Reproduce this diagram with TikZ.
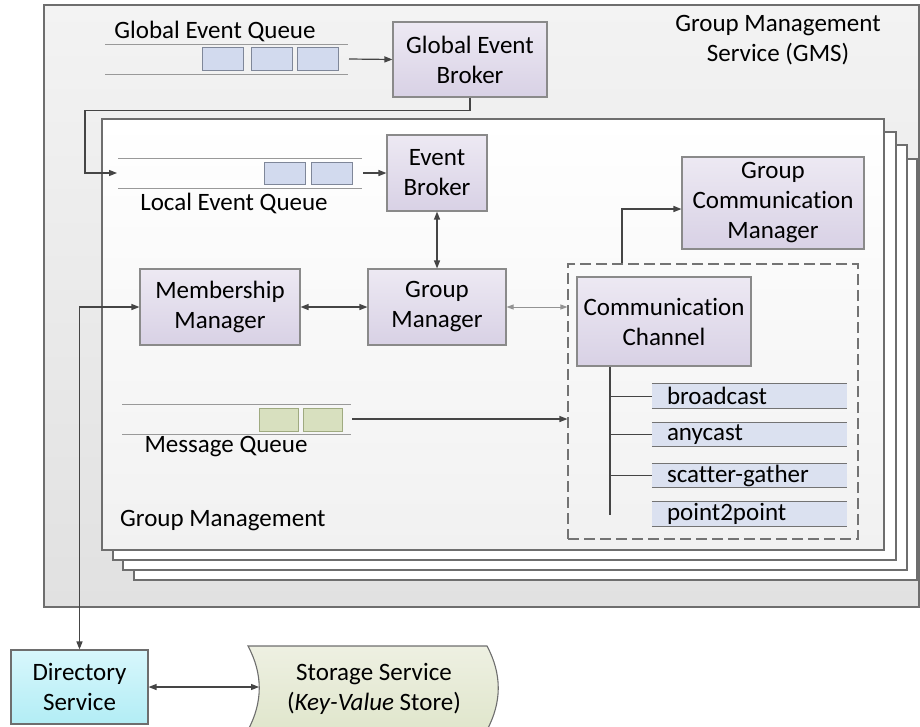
\documentclass[tikz,border=0pt]{standalone}
\usepackage{fontspec}
\setmainfont{Carlito}[Ligatures={NoCommon}]
\usetikzlibrary{arrows.meta,calc}
\definecolor{purpleTop}{HTML}{EDE9F3}
\definecolor{purpleBot}{HTML}{D8D1E5}
\definecolor{boxborder}{HTML}{8A8A8A}
\definecolor{arrowgray}{HTML}{454545}
\definecolor{qblue}{HTML}{D2DAEE}
\definecolor{qbluebd}{HTML}{7F8799}
\definecolor{qgreen}{HTML}{D8E0BF}
\definecolor{qgreenbd}{HTML}{9FAA80}
\definecolor{barblue}{HTML}{DBE1F0}
\definecolor{gmsTop}{HTML}{F3F3F3}
\definecolor{gmsBot}{HTML}{E1E1E1}
\definecolor{pageBot}{HTML}{F1F1F1}
\definecolor{dirTop}{HTML}{D8F7FC}
\definecolor{dirBot}{HTML}{B2EDF5}
\definecolor{storTop}{HTML}{EEF0E2}
\definecolor{storBot}{HTML}{E0E6CC}
\definecolor{linegray}{HTML}{6E6E6E}
\tikzset{
  bigfont/.style={font=\fontsize{25}{30}\selectfont},
  pbox/.style={draw=boxborder, line width=1.1pt, top color=purpleTop, bottom color=purpleBot, align=center, inner sep=0pt, bigfont},
  arr/.style={draw=arrowgray, line width=1.2pt, -{Triangle[length=8pt,width=6pt]}},
  dbl/.style={draw=arrowgray, line width=1.2pt, {Triangle[length=8pt,width=6pt]}-{Triangle[length=8pt,width=6pt]}},
  thindbl/.style={draw=gray!85, line width=0.9pt, {Triangle[length=7pt,width=5pt]}-{Triangle[length=7pt,width=5pt]}},
  qline/.style={draw=gray!80, line width=1pt},
  qb/.style={draw=qbluebd, fill=qblue, line width=0.8pt},
  qg/.style={draw=qgreenbd, fill=qgreen, line width=0.8pt},
  pagestyle/.style={draw=linegray, line width=1.2pt},
  barnode/.style={fill=barblue, text width=165pt, align=left, inner xsep=15pt, inner ysep=0pt, minimum height=24pt, bigfont, anchor=center},
  barline/.style={draw=gray!90!black, line width=1pt},
  lbl/.style={bigfont, align=center, inner sep=0pt},
}
\begin{document}
\begin{tikzpicture}[x=1pt,y=-1pt]
\useasboundingbox (0,0) rectangle (920,726);
% GMS outer
\shade[top color=gmsTop, bottom color=gmsBot] (44,5) rectangle (919,607);
\draw[draw=linegray, line width=1.2pt] (44,5) rectangle (919,607);
\node[lbl] (gmslabel) at (778,40) {Group Management\\Service (GMS)};
% page stack
\filldraw[pagestyle, fill=white] (134,159) rectangle (917,580);
\filldraw[pagestyle, fill=white] (123,145) rectangle (907,570);
\filldraw[pagestyle, fill=white] (113,132) rectangle (896,560);
\shade[top color=white, bottom color=pageBot] (102,119) rectangle (884,550);
\draw[pagestyle] (102,119) rectangle (884,550);
\node[bigfont, anchor=west, inner sep=0pt] (gmlabel) at (120,521) {Group Management};
% Global event queue
\node[lbl] (gqlabel) at (215,31) {Global Event Queue};
\draw[qline] (105,44) -- (348,44);
\draw[qline] (105,74) -- (348,74);
\draw[qb] (202,47) rectangle (243,70);
\draw[qb] (251,47) rectangle (292,70);
\draw[qb] (297,47) rectangle (338,70);
\coordinate (gqEnd) at (349,59);
% Global event broker
\node[pbox, minimum width=154pt, minimum height=75pt] (geb) at (470,59.5) {Global Event\\Broker};
\draw[arr] (gqEnd) -- (geb.west);
% Local event queue
\draw[qline] (118,158) -- (362,158);
\draw[qline] (118,188) -- (362,188);
\draw[qb] (264,162) rectangle (305,184);
\draw[qb] (311,162) rectangle (352,184);
\node[lbl] (lqlabel) at (234,203) {Local Event Queue};
\coordinate (lqIn) at (117,173);
\coordinate (lqTurn) at (85,173);
\coordinate (lqEnd) at (363,173);
\draw[arr] (geb.south) -- ++(0,13) -| (lqTurn) -- (lqIn);
% Event broker
\node[pbox, minimum width=100pt, minimum height=76pt] (eb) at (437,173) {Event\\Broker};
\draw[arr] (lqEnd) -- (eb.west);
% Managers
\node[pbox, minimum width=160pt, minimum height=76pt] (mm) at (220,307) {Membership\\Manager};
\node[pbox, minimum width=138pt, minimum height=76pt] (gm) at (437,307) {Group\\Manager};
\draw[dbl] (eb.south) -- (gm.north);
\draw[dbl] (mm.east) -- (gm.west);
% Channel dashed box
\node[draw=gray!90!black, line width=1.1pt, dash pattern=on 11pt off 5pt, minimum width=290pt, minimum height=275pt, inner sep=0pt] (chan) at (713,401.5) {};
\draw[thindbl] (gm.east) -- (gm.east -| chan.west);
\node[pbox, minimum width=182pt, minimum height=92pt] (gcm) at (773,203) {Group\\Communication\\Manager};
\coordinate (gcmTurn) at (622,209);
\draw[arr] (chan.north -| gcmTurn) -- (gcmTurn) -- (gcmTurn -| gcm.west);
\node[pbox, minimum width=174pt, minimum height=89pt] (cc) at (664,321.5) {Communication\\Channel};
% Methods
\node[barnode] (bc) at (749.5,396) {broadcast};
\node[barnode] (ac) at (749.5,434.5) {anycast};
\node[barnode] (sg) at (749.5,475.5) {scatter-gather};
\node[barnode] (pp) at (749.5,514) {point2point};
\foreach \n in {bc,ac,sg,pp}{
  \draw[barline] (\n.north west) -- (\n.north east);
  \draw[barline] (\n.south west) -- (\n.south east);
}
\coordinate (treeBot) at (610,515);
\draw[draw=arrowgray, line width=1.1pt] (cc.south -| treeBot) -- (treeBot);
\foreach \n in {bc,ac,sg}{
  \draw[draw=arrowgray, line width=1pt] (\n.west -| treeBot) -- (\n.west);
}
% Message queue
\draw[qline] (122,404) -- (351,404);
\draw[qline] (122,434) -- (351,434);
\draw[qg] (259,408) rectangle (298,431);
\draw[qg] (303,408) rectangle (342,431);
\node[lbl] (mqlabel) at (226,447) {Message Queue};
\coordinate (mqEnd) at (352,419);
\draw[arr] (mqEnd) -- (mqEnd -| chan.west);
% Directory & Storage
\node[draw=linegray, line width=1.1pt, top color=dirTop, bottom color=dirBot, minimum width=137pt, minimum height=74pt, align=center, inner sep=0pt, bigfont] (dir) at (79.5,687) {Directory\\Service};
\coordinate (dcorner) at (79.5,307);
\draw[dbl] (mm.west) -- (dcorner) -- (dir.north);
\shade[top color=storTop, bottom color=storBot] (248,646) .. controls (263,674) and (263,702) .. (248,730) -- (487,730) .. controls (502,702) and (502,674) .. (487,646) -- cycle;
\draw[draw=linegray, line width=1.1pt] (248,730) .. controls (263,702) and (263,674) .. (248,646) -- (487,646) .. controls (502,674) and (502,702) .. (487,730);
\node[lbl] (stor) at (374,689) {Storage Service\\(\textit{Key-Value} Store)};
\coordinate (stL) at (259,687);
\draw[dbl] (dir.east) -- (stL);
\end{tikzpicture}
\end{document}
